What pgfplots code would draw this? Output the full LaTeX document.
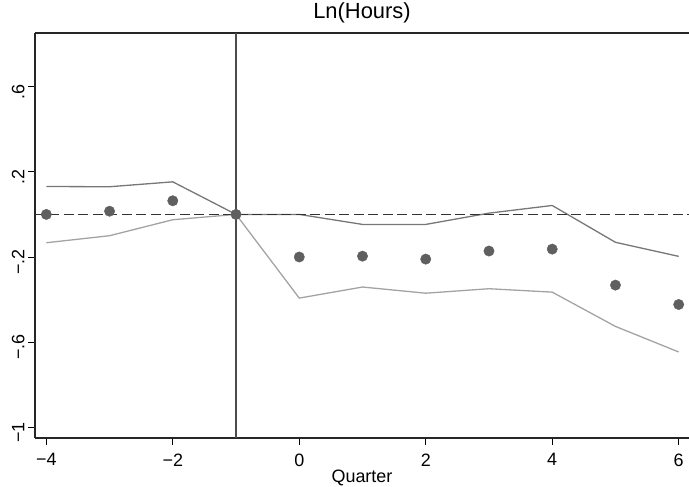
\documentclass[border=0pt]{standalone}
\usepackage{pgfplots}
\pgfplotsset{compat=1.18}
\usepackage{fontspec}
\setmainfont{Liberation Sans}
\definecolor{ptc}{HTML}{5F5F5F}
\definecolor{upc}{HTML}{777777}
\definecolor{loc}{HTML}{A3A3A3}
\begin{document}
\begin{tikzpicture}
\begin{axis}[
  scale only axis, width=654bp, height=405bp,
  xmin=-4.179, xmax=6.163, ymin=-1.050, ymax=0.852,
  axis lines*=left, axis line style={line width=1.2bp, color=black!85},
  xtick={-4,-2,0,2,4,6}, xticklabels={−4,−2,0,2,4,6},
  ytick={-1,-0.6,-0.2,0.2,0.6}, yticklabels={−1,−.6,−.2,.2,.6},
  tick align=outside, tick style={line width=0.8bp, color=black},
  major tick length=7bp,
  x tick label style={font=\fontsize{18}{20}\selectfont, anchor=north, yshift=-5bp},
  y tick label style={font=\fontsize{18}{20}\selectfont, rotate=90, anchor=south, xshift=-5bp},
  xlabel={Quarter}, xlabel style={font=\fontsize{18}{20}\selectfont, yshift=3bp},
  title={Ln(Hours)}, title style={font=\fontsize{22}{24}\selectfont, at={(0.5,1)}, anchor=base, yshift=9bp},
  clip=false,
]
\coordinate (bl) at (rel axis cs:0,0);
\coordinate (tr) at (rel axis cs:1,1);
\draw[line width=1.2bp, color=black!85] (rel axis cs:0,1) -- (rel axis cs:1,1);
\addplot[color=upc, line width=1.3bp, mark=none] coordinates {
(-4,0.131) (-3,0.130) (-2,0.153) (-1,0) (0,0) (1,-0.047) (2,-0.047) (3,0.006) (4,0.042) (5,-0.131) (6,-0.197)};
\addplot[color=loc, line width=1.3bp, mark=none] coordinates {
(-4,-0.133) (-3,-0.100) (-2,-0.025) (-1,0) (0,-0.393) (1,-0.341) (2,-0.370) (3,-0.349) (4,-0.365) (5,-0.526) (6,-0.646)};
\addplot[color=black!80, line width=1.6bp, dash pattern=on 10bp off 4.5bp, mark=none] coordinates {(-4.179,0) (6.163,0)};
\addplot[color=black!70, line width=1.3bp, mark=none] coordinates {(-1,-1.050) (-1,0.852)};
\addplot[only marks, mark=*, mark size=5.2bp, color=ptc, mark options={draw=ptc, fill=ptc}] coordinates {
(-4,0) (-3,0.015) (-2,0.064) (-1,0) (0,-0.200) (1,-0.196) (2,-0.210) (3,-0.172) (4,-0.163) (5,-0.332) (6,-0.423)};
\end{axis}
\pgfresetboundingbox
\useasboundingbox ([shift={(-35bp,-49bp)}]bl) rectangle ([yshift=33bp]tr);
\end{tikzpicture}
\end{document}
